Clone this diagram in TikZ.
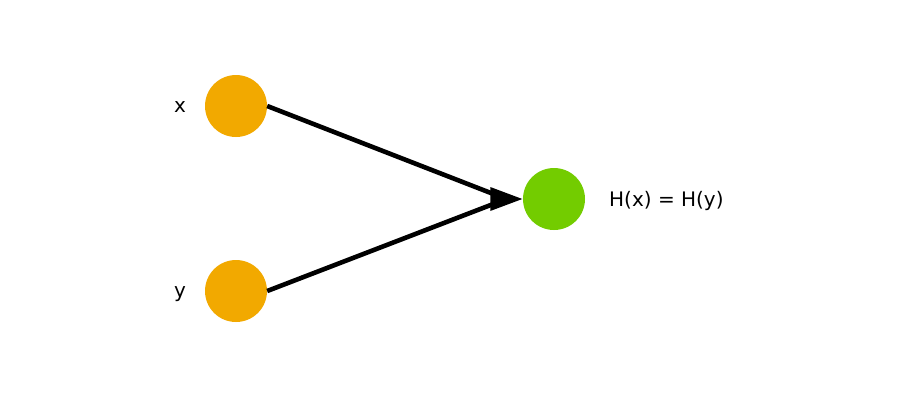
\documentclass[tikz,border=0pt]{standalone}
\usepackage{fontspec}
\setmainfont{DejaVu Sans}
\usetikzlibrary{calc}
\definecolor{c1}{RGB}{242,169,0}
\definecolor{c2}{RGB}{115,204,0}

\begin{document}
\begin{tikzpicture}[x=1pt,y=-1pt]
    \tikzset{
        dot/.style={circle,minimum size=62pt,inner sep=0pt},
        lbl/.style={font=\fontsize{20}{24}\selectfont,anchor=base,inner sep=0pt},
        edge/.style={line width=4.6pt}
    }
    \useasboundingbox[fill=white] (0,0) rectangle (900,400);
    % inputs
    \node[dot,fill=c1] (x) at (236,106) {};
    \node[dot,fill=c1] (y) at (236,291) {};
    \node[lbl] (xl) at (180,112) {x};
    \node[lbl] (yl) at (180,297) {y};
    % output
    \node[dot,fill=c2] (h) at (554,199) {};
    \node[lbl,anchor=base west] (hl) at (609,206) {H(x) = H(y)};
    % both edges end inside the head
    \coordinate (tip) at ($(h.west)+(-0.5,0)$);
    \coordinate (join) at ($(tip)+(-16,0)$);
    \draw[edge] (x.east) -- (join);
    \draw[edge] (y.east) -- (join);
    \fill (tip) -- ++(-32,-12) -- ++(0,24) -- cycle;
\end{tikzpicture}
\end{document}
